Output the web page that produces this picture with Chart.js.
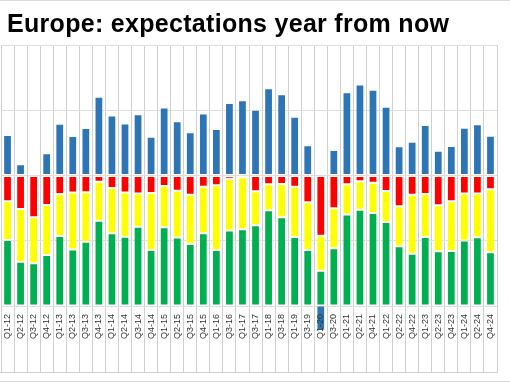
<!DOCTYPE html>
<html>
<head>
<meta charset="utf-8">
<script src="https://cdn.jsdelivr.net/npm/chart.js@4/dist/chart.umd.min.js"></script>
<style>
html,body{margin:0;padding:0;background:#fff;}
canvas{display:block;}
</style>
</head>
<body>
<canvas id="c" width="510" height="382"></canvas>
<script>
const title = 'Europe: expectations year from now';
const categories = ['Q1-12','Q2-12','Q3-12','Q4-12','Q1-13','Q2-13','Q3-13','Q4-13','Q1-14','Q2-14','Q3-14','Q4-14','Q1-15','Q2-15','Q3-15','Q4-15','Q1-16','Q3-16','Q1-17','Q3-17','Q1-18','Q3-18','Q1-19','Q3-19','Q1-20','Q3-20','Q1-21','Q2-21','Q4-21','Q1-22','Q2-22','Q4-22','Q1-23','Q2-23','Q4-23','Q1-24','Q2-24','Q4-24'];
// net balance (blue)
const netBalance = [31, 8.6, 0.9, 17, 39.6, 30.2, 36.4, 60.3, 46, 39.8, 47, 29.7, 52.2, 41.5, 33.1, 47.6, 35.6, 55.5, 57.6, 50.4, 66.8, 62.2, 45, 23.1, -19, 19.5, 63.7, 69.8, 65.7, 52.7, 22.4, 25.9, 38.7, 19, 22.6, 36.6, 39.2, 30.5];
// shares drawn below zero
const redShare = [-19.8, -25.7, -32.0, -22.6, -14.2, -13.1, -12.9, -4.7, -9.6, -13.1, -13.7, -13.4, -8.0, -11.6, -14.7, -8.6, -7.5, -2.4, -1.4, -12.1, -6.8, -6.5, -8.6, -20.5, -46.1, -25.1, -6.8, -4.5, -5.5, -11.9, -23.6, -14.7, -14.2, -22.8, -19.8, -13.7, -13.7, -10.6];
const yellowShare = [-29.6, -40.3, -35.2, -38.3, -32.2, -43.6, -37.8, -29.9, -34.7, -33.9, -25.5, -43.6, -31.6, -36.0, -37.8, -35.7, -49.5, -39.8, -39.8, -26.0, -19.9, -25.5, -38.5, -36.5, -26.8, -30.6, -23.0, -21.7, -23.2, -23.7, -30.6, -45.2, -32.9, -35.2, -38.0, -36.2, -33.7, -48.2];
const greenShare = [-50.3, -33.7, -32.4, -38.8, -53.3, -42.9, -49.0, -65.1, -55.4, -52.6, -60.5, -42.6, -60.0, -52.1, -47.2, -55.4, -42.6, -57.4, -58.4, -61.5, -73.0, -67.6, -52.6, -42.6, -26.8, -43.9, -69.9, -73.5, -71.0, -64.1, -45.4, -39.8, -52.6, -41.6, -41.9, -49.8, -52.3, -40.8];
const yTicks = [-100, -50, 0, 50, 100];

const common = {borderWidth: 1, borderColor: 'rgba(255,255,255,0.45)', barPercentage: 0.67, categoryPercentage: 1.0, borderSkipped: false};

const framePlugin = {
  id: 'frame',
  afterDraw(chart) {
    const ctx = chart.ctx;
    const xs = chart.scales.x;
    const ca = chart.chartArea;
    ctx.save();
    // title
    ctx.fillStyle = '#000';
    ctx.font = 'bold 25px "Liberation Sans", Arial, sans-serif';
    try { ctx.letterSpacing = '0.3px'; } catch (e) {}
    ctx.textBaseline = 'alphabetic';
    ctx.textAlign = 'left';
    ctx.fillText(title, 7, 32);
    try { ctx.letterSpacing = '0px'; } catch (e) {}
    // bottom line closing the label area
    ctx.strokeStyle = '#d0d0d0';
    ctx.lineWidth = 1;
    ctx.beginPath();
    ctx.moveTo(0, xs.bottom - 0.5);
    ctx.lineTo(ca.right, xs.bottom - 0.5);
    ctx.stroke();
    // outer border lines
    ctx.strokeStyle = '#d9d9d9';
    ctx.beginPath();
    ctx.moveTo(0, 0.5); ctx.lineTo(510, 0.5);
    ctx.moveTo(0, 381.5); ctx.lineTo(510, 381.5);
    ctx.stroke();
    ctx.restore();
  }
};

new Chart(document.getElementById('c'), {
  type: 'bar',
  data: {
    labels: categories,
    datasets: [
      Object.assign({label: 'red', data: redShare, backgroundColor: '#FF0000'}, common),
      Object.assign({label: 'yellow', data: yellowShare, backgroundColor: '#FFFF00'}, common),
      Object.assign({label: 'green', data: greenShare, backgroundColor: '#00B050'}, common),
      Object.assign({label: 'net', data: netBalance, backgroundColor: '#2E75B6', clip: false}, common)
    ]
  },
  options: {
    responsive: false,
    animation: false,
    layout: {padding: {top: 45, left: 1, right: 13, bottom: 9}},
    plugins: {legend: {display: false}, title: {display: false}, tooltip: {enabled: false}},
    scales: {
      x: {
        stacked: true,
        offset: true,
        grid: {offset: true, color: '#d0d0d0', lineWidth: 1, drawTicks: true, tickLength: 67, tickColor: '#d0d0d0'},
        border: {display: false},
        ticks: {z: 1, autoSkip: false, minRotation: 90, maxRotation: 90, padding: -59, color: '#333333', font: {family: '"Liberation Sans", Arial, sans-serif', size: 9}},
        afterFit(s) { s.height = 67; }
      },
      y: {
        stacked: true,
        min: yTicks[0], max: yTicks[yTicks.length - 1],
        afterBuildTicks(s) { s.ticks = yTicks.map(v => ({value: v})); },
        grid: {color: '#dedede', lineWidth: 1, drawTicks: false},
        border: {display: false},
        ticks: {display: false},
        afterFit(s) { s.width = 0; }
      }
    }
  },
  plugins: [framePlugin]
});
</script>
</body>
</html>
